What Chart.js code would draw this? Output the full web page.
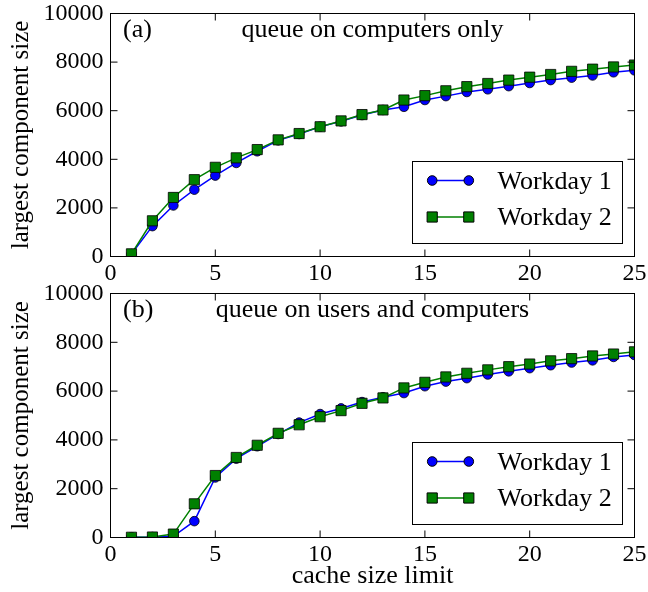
<!DOCTYPE html>
<html>
<head>
<meta charset="utf-8">
<script src="https://cdn.jsdelivr.net/npm/chart.js@4"></script>
<style>
    html, body { margin: 0; padding: 0; background: #fff; }
    #wrap { position: relative; width: 648px; height: 592px; }
    canvas { position: absolute; left: 0; }
    #chart-a { top: 0; }
    #chart-b { top: 285px; }
</style>
</head>
<body>
<div id="wrap">
    <canvas id="chart-a" width="648" height="285"></canvas>
    <canvas id="chart-b" width="648" height="307"></canvas>
</div>
<script>
var cacheLimit = [1, 2, 3, 4, 5, 6, 7, 8, 9, 10, 11, 12, 13, 14, 15, 16, 17, 18, 19, 20, 21, 22, 23, 24, 25];

// (a) queue on computers only
var compDay1 = [100, 1250, 2100, 2750, 3330, 3850, 4330, 4780, 5040, 5340, 5560, 5820, 6030,
    6160, 6440, 6600, 6770, 6880, 7010, 7140, 7260, 7360, 7450, 7580, 7660];
var compDay2 = [110, 1470, 2430, 3160, 3670, 4060, 4400, 4800, 5060, 5340, 5580, 5840, 6030,
    6440, 6620, 6820, 6990, 7120, 7260, 7380, 7490, 7620, 7710, 7800, 7880];

// (b) queue on users and computers
var bothDay1 = [10, 20, 50, 670, 2460, 3230, 3740, 4240, 4710, 5060, 5290, 5550, 5750,
    5920, 6200, 6390, 6530, 6680, 6810, 6940, 7060, 7170, 7260, 7400, 7480];
var bothDay2 = [10, 20, 140, 1380, 2540, 3280, 3780, 4270, 4620, 4950, 5200, 5500, 5720,
    6130, 6360, 6580, 6730, 6870, 7000, 7110, 7240, 7330, 7440, 7520, 7610];

var xTicks = [0, 5, 10, 15, 20, 25];
var yTicks = [0, 2000, 4000, 6000, 8000, 10000];
var seriesNames = ['Workday 1', 'Workday 2'];

var FONT = '"Liberation Serif", "Times New Roman", serif';
var TICK = 7;

Chart.defaults.animation = false;
Chart.defaults.color = '#000';
Chart.defaults.font.family = FONT;
Chart.defaults.font.size = 24;

function points(values) {
    return cacheLimit.map(function (x, i) { return { x: x, y: values[i] }; });
}

// matplotlib-style frame: box round the axes, inward ticks on all four sides,
// panel tag + caption inside the top, and a line-with-two-markers legend
var framePlugin = {
    id: 'frame',
    afterDatasetsDraw: function (chart, args, opts) {
        var ctx = chart.ctx, a = chart.chartArea;
        var xs = chart.scales.x, ys = chart.scales.y;
        ctx.save();
        ctx.strokeStyle = '#000';
        ctx.lineWidth = 1;
        ctx.strokeRect(a.left, a.top, a.right - a.left, a.bottom - a.top);
        ctx.beginPath();
        xTicks.forEach(function (v) {
            var px = xs.getPixelForValue(v);
            ctx.moveTo(px, a.bottom); ctx.lineTo(px, a.bottom - TICK);
            ctx.moveTo(px, a.top); ctx.lineTo(px, a.top + TICK);
        });
        yTicks.forEach(function (v) {
            var py = ys.getPixelForValue(v);
            ctx.moveTo(a.left, py); ctx.lineTo(a.left + TICK, py);
            ctx.moveTo(a.right, py); ctx.lineTo(a.right - TICK, py);
        });
        ctx.stroke();

        ctx.fillStyle = '#000';
        ctx.font = '26px ' + FONT;
        ctx.textBaseline = 'alphabetic';
        ctx.textAlign = 'left';
        ctx.fillText(opts.tag, a.left + 12.5, a.top + 23);
        ctx.textAlign = 'center';
        ctx.fillText(opts.caption, (a.left + a.right) / 2, a.top + 23);

        var bw = 210, bh = 82;
        var bx = a.right - 12 - bw, by = a.bottom - 13 - bh;
        ctx.fillStyle = '#fff';
        ctx.fillRect(bx, by, bw, bh);
        ctx.strokeRect(bx, by, bw, bh);
        chart.data.datasets.forEach(function (ds, i) {
            var ry = by + 19 + i * 36.5;
            var x1 = bx + 19.7, x2 = bx + 56.3;
            ctx.strokeStyle = ds.borderColor;
            ctx.lineWidth = ds.borderWidth;
            ctx.beginPath(); ctx.moveTo(x1, ry); ctx.lineTo(x2, ry); ctx.stroke();
            ctx.fillStyle = ds.pointBackgroundColor;
            ctx.strokeStyle = '#000';
            ctx.lineWidth = 1;
            [x1, x2].forEach(function (mx) {
                ctx.beginPath();
                if (ds.pointStyle === 'rect') {
                    var h = ds.pointRadius * Math.SQRT1_2;
                    ctx.rect(mx - h, ry - h, 2 * h, 2 * h);
                } else {
                    ctx.arc(mx, ry, ds.pointRadius, 0, Math.PI * 2);
                }
                ctx.fill(); ctx.stroke();
            });
            ctx.fillStyle = '#000';
            ctx.textAlign = 'left';
            ctx.fillText(ds.label, bx + 85, ry + 8);
        });
        ctx.restore();
    }
};

function plain(v) { return String(v); }

function panel(id, day1, day2, tag, caption, pad, xHeight, xTitle) {
    new Chart(document.getElementById(id), {
        type: 'line',
        data: {
            datasets: [
                { label: seriesNames[0], data: points(day1), order: 2, clip: 0,
                  borderColor: '#0000ff', borderWidth: 1.5, pointStyle: 'circle', pointRadius: 4.8,
                  pointBackgroundColor: '#0000ff', pointBorderColor: '#000', pointBorderWidth: 0.8 },
                { label: seriesNames[1], data: points(day2), order: 1, clip: 0,
                  borderColor: '#008000', borderWidth: 1.5, pointStyle: 'rect', pointRadius: 7.2,
                  pointBackgroundColor: '#008000', pointBorderColor: '#000', pointBorderWidth: 0.8 }
            ]
        },
        options: {
            responsive: false,
            devicePixelRatio: 1,
            events: [],
            layout: { padding: { top: pad, right: 13.5, left: 0, bottom: 0 } },
            plugins: {
                legend: { display: false },
                tooltip: { enabled: false },
                frame: { tag: tag, caption: caption }
            },
            scales: {
                x: {
                    type: 'linear', min: 0, max: 25,
                    grid: { display: false, drawTicks: false, tickLength: 0 },
                    border: { display: false },
                    ticks: { padding: 3, maxRotation: 0, autoSkip: false, callback: plain },
                    afterBuildTicks: function (s) { s.ticks = xTicks.map(function (v) { return { value: v }; }); },
                    afterFit: function (s) {
                        s.height = xHeight;
                        s.paddingLeft = 0; s.paddingRight = 0;
                    },
                    title: { display: !!xTitle, text: xTitle || '', font: { size: 26 }, padding: { top: 0, bottom: 0 } }
                },
                y: {
                    min: 0, max: 10000,
                    grid: { display: false, drawTicks: false, tickLength: 0 },
                    border: { display: false },
                    ticks: { padding: 7, autoSkip: false, callback: plain },
                    afterBuildTicks: function (s) { s.ticks = yTicks.map(function (v) { return { value: v }; }); },
                    afterFit: function (s) {
                        s.width = 110.5;
                        s.paddingTop = 0; s.paddingBottom = 0;
                    },
                    title: { display: true, text: 'largest component size', font: { size: 25 }, padding: { top: 6, bottom: 0 } }
                }
            }
        },
        plugins: [framePlugin]
    });
}

panel('chart-a', compDay1, compDay2, '(a)', 'queue on computers only', 13.5, 28.5, null);
panel('chart-b', bothDay1, bothDay2, '(b)', 'queue on users and computers', 8.5, 54.5, 'cache size limit');
</script>
</body>
</html>
